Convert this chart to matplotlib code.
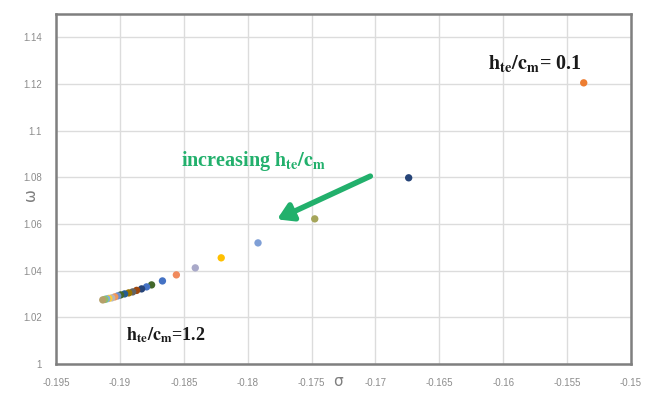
import matplotlib
matplotlib.use("Agg")
import matplotlib.pyplot as plt
import numpy as np

# ---- data ----
h_ratio = [0.1, 0.15, 0.2, 0.25, 0.3, 0.35, 0.4, 0.45, 0.5, 0.55, 0.6, 0.65,
           0.7, 0.75, 0.8, 0.85, 0.9, 0.95, 1.0, 1.05, 1.1, 1.15, 1.2]
sigma = [-0.1537, -0.1674, -0.17475, -0.17919, -0.18207, -0.1841, -0.18558,
         -0.18667, -0.18752, -0.18791, -0.18830, -0.18869, -0.18900, -0.18931,
         -0.18963, -0.18994, -0.19017, -0.19040, -0.19064, -0.19087, -0.19103,
         -0.19118, -0.19134]
omega = [1.1205, 1.0798, 1.0622, 1.0519, 1.0455, 1.0412, 1.0382, 1.0356,
         1.0339, 1.03305, 1.03219, 1.03155, 1.03090, 1.03047, 1.03004, 1.02961,
         1.02919, 1.02876, 1.02833, 1.02811, 1.02790, 1.02768, 1.02747]
point_colors = ["#ED7D31", "#264478", "#A5A55A", "#7F9FD6", "#FFC000", "#A9A9C9",
                "#F08A5D", "#4472C4", "#43682B", "#4472C4", "#264478", "#9E480E",
                "#636363", "#997300", "#255E91", "#43682B", "#698ED0", "#F1975A",
                "#B7B7B7", "#FFCD33", "#7CAFDD", "#8CC168", "#B5A06A"]
x_ticks = [-0.195, -0.19, -0.185, -0.18, -0.175, -0.17, -0.165, -0.16, -0.155, -0.15]
y_ticks = [1.0, 1.02, 1.04, 1.06, 1.08, 1.1, 1.12, 1.14]

plt.rcParams['mathtext.fontset'] = 'stix'

fig = plt.figure(figsize=(6.49, 3.98), dpi=100)
ax = fig.add_axes([56/649, 34/398, 575/649, 350/398])

ax.scatter(sigma, omega, c=point_colors, s=28, zorder=3, linewidths=0)

ax.set_xlim(-0.195, -0.15)
ax.set_ylim(1.0, 1.15)
ax.set_xticks(x_ticks)
ax.set_yticks(y_ticks)
ax.set_xticklabels([f"{round(v, 3):g}" for v in x_ticks])
ax.set_yticklabels([f"{round(v, 3):g}" for v in y_ticks])
ax.tick_params(length=0, labelsize=7, labelcolor="#8C8C8C", pad=10)
for lab in ax.get_xticklabels() + ax.get_yticklabels():
    lab.set_fontfamily("Liberation Sans")
ax.grid(True, color="#DCDCDC", linewidth=1.0, zorder=0)
ax.set_axisbelow(True)
for sp in ax.spines.values():
    sp.set_color("#7F7F7F")
    sp.set_linewidth(1.8)

# axis labels (placed as in the original)
fig.text(338/649, 1 - 381/398, "σ", fontsize=11, color="#7F7F7F",
         ha="center", va="center", family="DejaVu Sans")
fig.text(30/649, 1 - 195/398, "ω", fontsize=11, color="#7F7F7F",
         ha="center", va="center", rotation=90, family="DejaVu Sans")

# annotations
ax.text(-0.1612, 1.1290, r"$\mathbf{h_{te}/c_m}$= 0.1", fontsize=14.5,
        family="Liberation Serif", fontweight="bold", color="#1A1A1A",
        ha="left", va="center")
ax.text(-0.1895, 1.0125, r"$\mathbf{h_{te}/c_m}$=1.2", fontsize=13,
        family="Liberation Serif", fontweight="bold", color="#1A1A1A",
        ha="left", va="center")
ax.text(-0.1852, 1.0868, r"increasing $\mathbf{h_{te}/c_m}$", fontsize=14.5,
        family="Liberation Serif", fontweight="bold", color="#22B06C",
        ha="left", va="center")
ax.annotate("", xy=(-0.1777, 1.0620), xytext=(-0.1704, 1.0805),
            arrowprops=dict(arrowstyle="-|>,head_length=0.9,head_width=0.55",
                            color="#22B06C", lw=4, shrinkA=0, shrinkB=0))

fig.savefig("out.png", dpi=100, facecolor="white")
